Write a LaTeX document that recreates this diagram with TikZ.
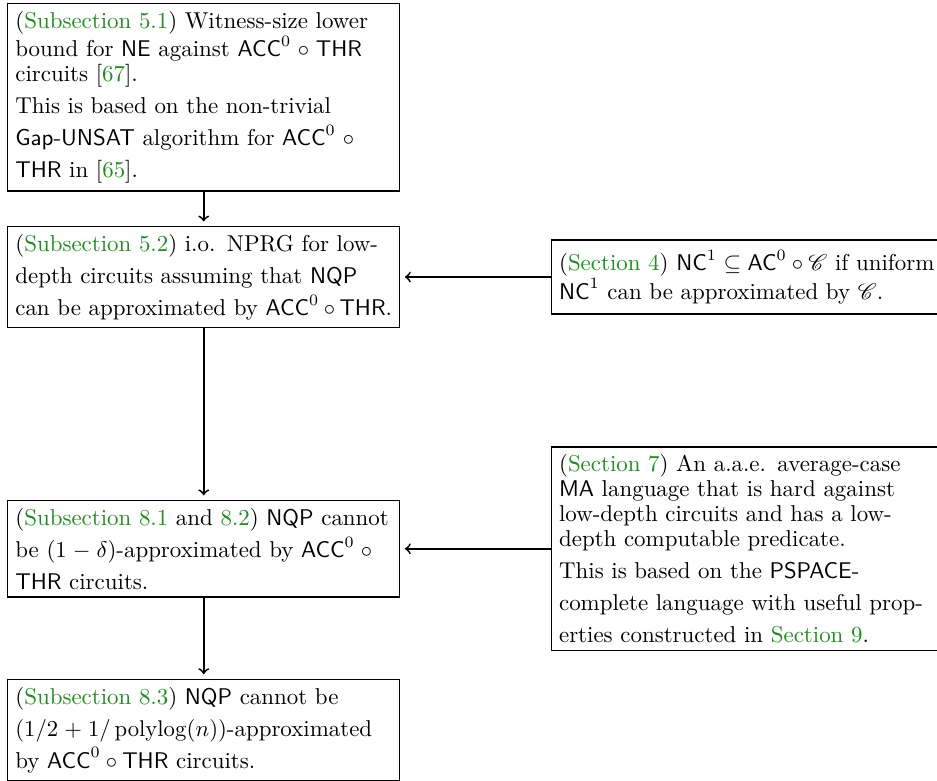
\documentclass[tikz,border=0pt]{standalone}
\usepackage{amsmath}
\usepackage{mathrsfs}
\definecolor{refgreen}{rgb}{0.13,0.55,0.13}
\newcommand{\grn}[1]{\textcolor{refgreen}{#1}}
\newcommand{\ACCTHR}{\mathsf{ACC}^0\circ\mathsf{THR}}
\newcommand{\loosefont}{\fontsize{10.1pt}{12.1pt}\linespread{1.165}\selectfont}
\newcommand{\tightfont}{\fontsize{10.1pt}{12.1pt}\linespread{0.909}\selectfont}

\begin{document}
\begin{tikzpicture}[box/.style={draw,semithick,anchor=north west,text width=166pt,align=left,font=\loosefont},
  arr/.style={->,thick,shorten >=2pt}]
  \useasboundingbox (0,0) rectangle (14.51,-12.08);
  \clip (0,0) rectangle (14.51,-12.08);
  % left column
  \node[box] (witness) at (0.11,-0.045) {{\tightfont (\grn{Subsection 5.1}) Witness-size lower bound for $\mathsf{NE}$ against $\ACCTHR$ circuits [\grn{67}].\par}
    This is based on the non-trivial \mbox{\textsf{Gap-UNSAT}} algorithm for $\ACCTHR$ in [\grn{65}].};
  \node[box] (nprg) at (0.11,-3.50) {(\grn{Subsection 5.2}) i.o. NPRG for low-depth circuits assuming that $\mathsf{NQP}$ can be approximated by $\ACCTHR$.};
  \node[box] (approx) at (0.11,-7.74) {(\grn{Subsection 8.1} and \grn{8.2}) $\mathsf{NQP}$ cannot be $(1-\delta)$-approximated by $\ACCTHR$ circuits.};
  \node[box] (final) at (0.11,-10.51) {(\grn{Subsection 8.3}) $\mathsf{NQP}$ cannot be $(1/2+1/\operatorname{polylog}(n))$-approximated by $\ACCTHR$ circuits.};
  % right column
  \node[box,anchor=west,font=\tightfont,inner ysep=4.5pt] (ncone) at (8.53,-4.29) {(\grn{Section 4}) $\mathsf{NC}^1\subseteq\mathsf{AC}^0\circ\mathscr{C}$ if uniform $\mathsf{NC}^1$ can be approximated by $\mathscr{C}$.};
  \node[box] (malang) at (8.53,-6.91) {{\tightfont (\grn{Section 7}) An a.a.e. average-case $\mathsf{MA}$ language that is hard against low-depth circuits and has a low-depth computable predicate.\par}
    This is based on the $\mathsf{PSPACE}$-complete language with useful properties constructed in \grn{Section 9}.};
  % arrows
  \draw[arr] (witness) -- (nprg);
  \draw[arr] (nprg) -- (approx);
  \draw[arr] (approx) -- (final);
  \draw[arr] (ncone.west) -- (ncone.west -| nprg.east);
  \draw[arr] (malang.west |- approx.east) -- (approx.east);
\end{tikzpicture}
\end{document}
